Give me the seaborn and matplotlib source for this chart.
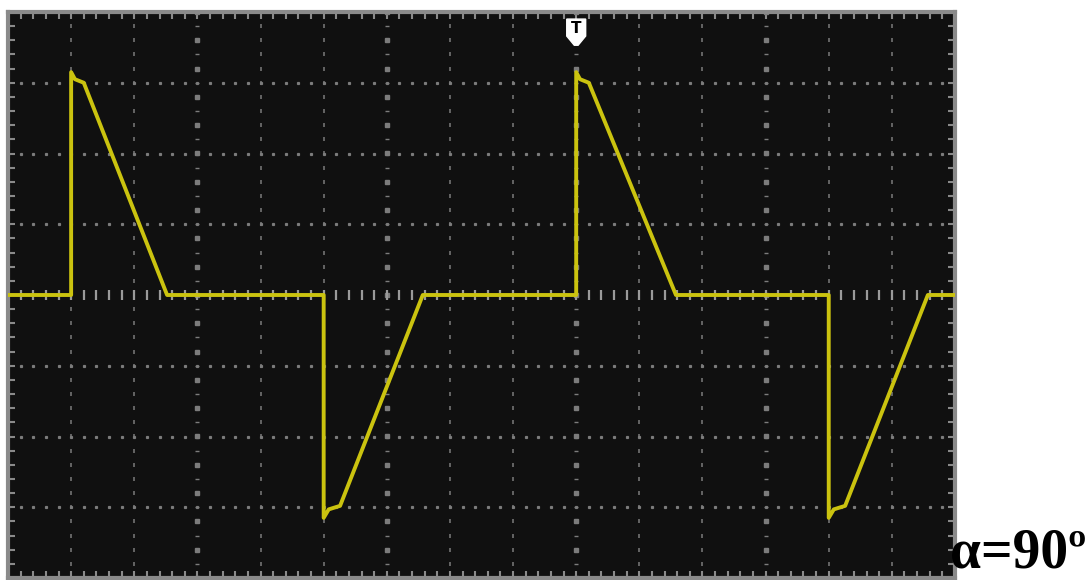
import numpy as np
import pandas as pd
import matplotlib
matplotlib.use("Agg")
from matplotlib import pyplot as plt
from matplotlib.patches import Polygon
import seaborn as sns

sns.set_theme(style="dark", rc={"axes.facecolor": "#101010"})

# waveform, read in screen divisions (x: 15 div, y: +/-4 div)
time_div = [0.0, 1.0, 1.0, 1.06, 1.2, 2.52,
            5.0, 5.0, 5.08, 5.26, 6.57,
            9.0, 9.0, 9.06, 9.2, 10.58,
            13.0, 13.0, 13.08, 13.26, 14.57, 15.0]
volt_div = [0.0, 0.0, 3.15, 3.05, 3.0, 0.0,
            0.0, -3.15, -3.03, -2.98, 0.0,
            0.0, 3.15, 3.05, 3.0, 0.0,
            0.0, -3.15, -3.03, -2.98, 0.0, 0.0]
trigger_pos = 9.0
label = "α=90º"

wave = pd.DataFrame({"t": time_div, "v": volt_div})

fig = plt.figure(figsize=(10.9, 5.8), dpi=100)
ax = fig.add_axes([8 / 1090, 2 / 580, 947 / 1090, 566 / 580])
ax.set_xlim(0, 15)
ax.set_ylim(-4, 4)

grid_col = "#7c7c7c"
# dotted graticule
for gx in range(1, 15):
    ys = np.arange(-4, 4.01, 0.2)
    if gx % 3 == 0:
        ax.plot(np.full_like(ys[::2], gx), ys[::2], ls="none", marker="s",
                ms=2.2, color=grid_col, zorder=1)
        ax.plot(np.full_like(ys[1::2], gx), ys[1::2], ls="none", marker="_",
                ms=3, mew=1, color=grid_col, zorder=1)
    else:
        ax.plot(np.full_like(ys, gx), ys, ls="none", marker="|",
                ms=2.5, mew=1.1, color=grid_col, zorder=1)
for gy in range(-3, 4):
    xs = np.arange(0, 15.01, 0.2)
    if gy == 0:
        ax.plot(xs, np.zeros_like(xs), ls="none", marker="|", ms=6.5, mew=1.6,
                color="#9a9a9a", zorder=1)
    else:
        ax.plot(xs, np.full_like(xs, gy), ls="none", marker="s", ms=1.3,
                color=grid_col, zorder=1)

# border ticks
ax.xaxis.set_major_locator(plt.MultipleLocator(1))
ax.xaxis.set_minor_locator(plt.MultipleLocator(0.2))
ax.yaxis.set_major_locator(plt.MultipleLocator(1))
ax.yaxis.set_minor_locator(plt.MultipleLocator(0.2))
ax.tick_params(which="both", direction="in", length=5, width=1.5, color="#8a8a8a",
               top=True, bottom=True, left=True, right=True,
               labelbottom=False, labelleft=False)
for s in ax.spines.values():
    s.set_color("#8a8a8a")
    s.set_linewidth(3)
ax.grid(False)

sns.lineplot(data=wave, x="t", y="v", sort=False, estimator=None,
             color="#cbc30f", lw=2.8, ax=ax, zorder=3)
ax.set_xlabel("")
ax.set_ylabel("")

# trigger marker
tx = trigger_pos
ax.add_patch(Polygon([[tx - 0.15, 3.9], [tx + 0.15, 3.9], [tx + 0.15, 3.66],
                      [tx + 0.03, 3.53], [tx - 0.03, 3.53], [tx - 0.15, 3.66]],
                     closed=True, facecolor="white", edgecolor="white", zorder=4))
ax.text(tx, 3.77, "T", ha="center", va="center", color="black",
        fontsize=11, fontweight="bold", zorder=5)

fig.text(1087 / 1090, 1 / 580, label, ha="right", va="bottom",
         family="Liberation Serif", fontweight="bold", color="black",
         fontsize=40)

fig.savefig("out.png", dpi=100)
